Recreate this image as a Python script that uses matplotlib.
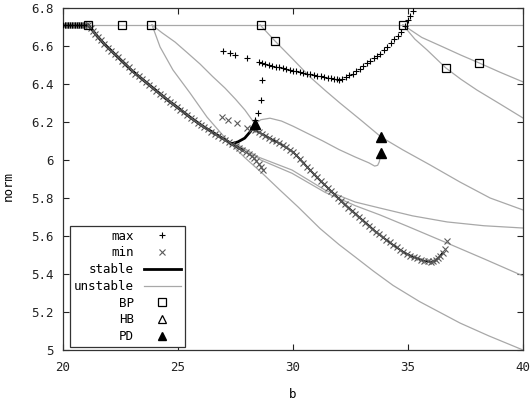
import numpy as np
import matplotlib.pyplot as plt
from matplotlib.lines import Line2D
from matplotlib.ticker import FuncFormatter

plt.rcParams['font.family'] = ['DejaVu Sans Mono', 'DejaVu Sans']
plt.rcParams['font.size'] = 9

# ---- values: (b, norm) ----
# steady branch (flat)
flat_b = [20.0, 40.0]
flat_n = [6.711, 6.711]
flat_stable_b = [20.0, 21.09]
flat_stable_n = [6.711, 6.711]
flat_mark_b = [20.0, 20.1, 20.2, 20.3, 20.4, 20.5, 20.6, 20.7, 20.8, 20.9, 21.0]
flat_mark_n = [6.711] * 11

# first periodic branch (min); stable up to b = 27.8
min1_b = [21.1, 21.2, 21.3, 21.4, 21.5, 21.65, 21.8, 21.95, 22.1, 22.25, 22.4,
          22.55, 22.7, 22.85, 23.0, 23.15, 23.3, 23.45, 23.6, 23.75, 23.9, 24.05,
          24.2, 24.35, 24.5, 24.65, 24.8, 24.95, 25.1, 25.25, 25.4, 25.55, 25.7,
          25.85, 26.0, 26.15, 26.3, 26.45, 26.6, 26.75, 26.9, 27.05, 27.2, 27.35,
          27.5, 27.65, 27.8, 27.95, 28.1, 28.2, 28.3, 28.4, 28.5, 28.6, 28.7]
min1_n = [6.71, 6.695, 6.68, 6.665, 6.65, 6.63, 6.61, 6.592, 6.575, 6.557, 6.54,
          6.522, 6.505, 6.487, 6.47, 6.455, 6.44, 6.425, 6.41, 6.395, 6.38, 6.365,
          6.35, 6.335, 6.32, 6.306, 6.293, 6.279, 6.265, 6.251, 6.237, 6.223, 6.21,
          6.197, 6.184, 6.172, 6.161, 6.15, 6.139, 6.128, 6.117, 6.106, 6.095, 6.084,
          6.074, 6.063, 6.053, 6.042, 6.03, 6.019, 6.008, 5.994, 5.98, 5.965, 5.95]
n_stable1 = 47
hook_b = [27.3, 27.6, 27.9, 28.15, 28.35]
hook_n = [6.085, 6.095, 6.115, 6.15, 6.19]

# second periodic branch (min); stable up to the fold
min2_b = [28.2, 28.35, 28.5, 28.65, 28.8, 28.95, 29.1, 29.25, 29.4, 29.55, 29.7,
          29.85, 30.0, 30.15, 30.3, 30.45, 30.6, 30.75, 30.9, 31.05, 31.2, 31.35,
          31.5, 31.65, 31.8, 31.95, 32.1, 32.25, 32.4, 32.55, 32.7, 32.85, 33.0,
          33.15, 33.3, 33.45, 33.6, 33.75, 33.9, 34.05, 34.2, 34.35, 34.5, 34.65,
          34.8, 34.95, 35.1, 35.25, 35.4, 35.55, 35.7, 35.85, 36.0, 36.1, 36.2,
          36.3, 36.4, 36.5, 36.6, 36.7]
min2_n = [6.165, 6.156, 6.147, 6.137, 6.128, 6.118, 6.107, 6.098, 6.088, 6.077,
          6.066, 6.054, 6.042, 6.024, 6.005, 5.985, 5.965, 5.946, 5.927, 5.908,
          5.89, 5.872, 5.855, 5.837, 5.82, 5.801, 5.783, 5.766, 5.75, 5.734, 5.718,
          5.702, 5.686, 5.67, 5.655, 5.638, 5.622, 5.608, 5.594, 5.58, 5.566, 5.553,
          5.54, 5.528, 5.516, 5.506, 5.497, 5.489, 5.482, 5.476, 5.47, 5.466, 5.464,
          5.466, 5.472, 5.482, 5.495, 5.511, 5.53, 5.575]
min_extra_b = [26.91, 27.17, 27.57, 28.0]
min_extra_n = [6.226, 6.21, 6.195, 6.168]

# max markers
max_b = [26.96, 27.26, 27.48, 28.0, 28.5, 28.65, 28.8, 28.95, 29.1, 29.25, 29.4,
         29.55, 29.7, 29.85, 30.0, 30.15, 30.3, 30.45, 30.6, 30.75, 30.9, 31.05,
         31.2, 31.35, 31.5, 31.65, 31.8, 31.9, 32.0, 32.15, 32.3, 32.45, 32.6,
         32.75, 32.9, 33.05, 33.2, 33.35, 33.5, 33.65, 33.8, 33.95, 34.1, 34.25,
         34.4, 34.55, 34.7, 34.85, 35.0, 35.1, 35.2]
max_n = [6.574, 6.563, 6.553, 6.537, 6.516, 6.511, 6.506, 6.502, 6.497, 6.492,
         6.488, 6.483, 6.479, 6.474, 6.47, 6.466, 6.462, 6.458, 6.455, 6.451, 6.448,
         6.444, 6.441, 6.437, 6.434, 6.43, 6.427, 6.424, 6.421, 6.428, 6.437, 6.446,
         6.455, 6.467, 6.48, 6.494, 6.508, 6.521, 6.535, 6.547, 6.56, 6.577, 6.595,
         6.615, 6.635, 6.655, 6.675, 6.705, 6.735, 6.76, 6.785]
max_vert_b = [28.35, 28.48, 28.61, 28.65]
max_vert_n = [6.21, 6.247, 6.316, 6.421]

# unstable branches
u2_b = [23.87, 24.3, 24.87, 25.4, 25.96, 26.5, 27.04, 27.5, 27.91, 28.35]
u2_n = [6.711, 6.67, 6.621, 6.565, 6.505, 6.44, 6.379, 6.32, 6.263, 6.189]
u3_b = [23.87, 24.22, 24.78, 25.52, 26.26, 27.13, 27.91, 28.65, 29.43, 30.22,
        31.17, 32.0, 32.7, 33.5, 34.35, 35.5, 37.26, 38.5, 40.0]
u3_n = [6.711, 6.595, 6.474, 6.353, 6.226, 6.105, 6.012, 5.932, 5.842, 5.753,
        5.64, 5.555, 5.49, 5.415, 5.34, 5.255, 5.142, 5.075, 5.0]
u4_b = [28.57, 29.22, 30.0, 30.74, 31.4, 32.04, 33.0, 33.83, 34.78, 35.96, 37.26,
        38.57, 40.0]
u4_n = [6.711, 6.626, 6.53, 6.437, 6.366, 6.3, 6.205, 6.121, 6.053, 5.974, 5.884,
        5.8, 5.737]
u5_b = [34.78, 35.3, 35.83, 36.65, 37.3, 38.0, 39.0, 40.0]
u5_n = [6.711, 6.636, 6.579, 6.484, 6.425, 6.368, 6.295, 6.221]
u6_b = [34.78, 35.6, 36.52, 37.3, 38.09, 39.0, 40.0]
u6_n = [6.711, 6.645, 6.595, 6.552, 6.511, 6.462, 6.411]
hump_b = [28.35, 28.6, 29.0, 29.5, 30.0, 30.6, 31.3, 32.0, 32.7, 33.3, 33.55,
          33.68, 33.75, 33.83]
hump_n = [6.19, 6.212, 6.22, 6.205, 6.178, 6.142, 6.1, 6.055, 6.016, 5.985,
          5.968, 5.972, 5.99, 6.037]
u7_b = [27.48, 28.48, 29.96, 31.39, 32.7, 33.78, 35.2, 36.7, 38.3, 40.0]
u7_n = [6.089, 6.016, 5.947, 5.842, 5.779, 5.747, 5.706, 5.674, 5.654, 5.642]
u8_b = [27.9, 28.6, 29.96, 31.39, 32.7, 33.78, 35.0, 36.7, 38.3, 40.0]
u8_n = [6.06, 6.0, 5.93, 5.83, 5.76, 5.711, 5.65, 5.563, 5.48, 5.39]

# special points
bp_b = [21.09, 22.57, 23.83, 28.6, 34.78, 29.22, 36.65, 38.09]
bp_n = [6.711, 6.711, 6.711, 6.711, 6.711, 6.627, 6.485, 6.51]
pd_b = [28.35, 33.83, 33.83]
pd_n = [6.19, 6.123, 6.039]

gray = '#a8a8a8'
xgray = '#5a5a5a'

fig = plt.figure(figsize=(5.31, 4.03), dpi=100)
ax = fig.add_axes([63 / 531, 1 - 350 / 403, 460 / 531, 342 / 403])

# unstable
for b, n in [(flat_b, flat_n), (u2_b, u2_n), (u3_b, u3_n), (u4_b, u4_n),
             (u5_b, u5_n), (u6_b, u6_n), (hump_b, hump_n), (u7_b, u7_n),
             (u8_b, u8_n)]:
    ax.plot(b, n, color=gray, lw=0.9, zorder=2)

# stable
ax.plot(flat_stable_b, flat_stable_n, color='black', lw=2.0, zorder=3)
ax.plot([21.09] + min1_b[:n_stable1], [6.711] + min1_n[:n_stable1],
        color='black', lw=2.0, zorder=3)
ax.plot(hook_b, hook_n, color='black', lw=2.0, zorder=3)
ax.plot(min2_b[:-2], min2_n[:-2], color='black', lw=1.3, zorder=3)

# min / max markers
mk = dict(ls='none', ms=5, mew=0.8, zorder=4)
ax.plot(flat_mark_b, flat_mark_n, marker='x', color=xgray, **mk)
ax.plot(flat_mark_b, flat_mark_n, marker='+', color='black', **mk)
ax.plot(min1_b, min1_n, marker='x', color=xgray, **mk)
ax.plot(min2_b, min2_n, marker='x', color=xgray, **mk)
ax.plot(min_extra_b, min_extra_n, marker='x', color=xgray, **mk)
ax.plot(max_b, max_n, marker='+', color='black', **mk)
ax.plot(max_vert_b, max_vert_n, marker='+', color='black', **mk)

ax.plot(bp_b, bp_n, ls='none', marker='s', ms=6, mfc='none', mec='black',
        mew=0.9, zorder=5)
ax.plot(pd_b, pd_n, ls='none', marker='^', ms=7, color='black', zorder=5)

ax.set_xlim(20, 40)
ax.set_ylim(5, 6.8)
ax.set_xticks([20, 25, 30, 35, 40])
ax.set_yticks([5.0, 5.2, 5.4, 5.6, 5.8, 6.0, 6.2, 6.4, 6.6, 6.8])
ax.yaxis.set_major_formatter(FuncFormatter(lambda v, _: f'{round(v, 1):g}'))
ax.tick_params(direction='in', length=4, width=0.8, top=True, right=True,
               labelsize=9, colors='#222222')
ax.tick_params(axis='x', pad=8)
ax.tick_params(axis='y', pad=7)
for s in ax.spines.values():
    s.set_linewidth(0.9)
    s.set_color('#333333')

ax.set_xlabel('b')
ax.xaxis.set_label_coords(0.5, -0.11)
ax.set_ylabel('norm')
ax.yaxis.set_label_coords(-0.105, 0.48)

handles = [
    Line2D([], [], ls='none', marker='+', color='black', ms=5, mew=0.8),
    Line2D([], [], ls='none', marker='x', color=xgray, ms=5, mew=0.8),
    Line2D([], [], color='black', lw=2.0),
    Line2D([], [], color=gray, lw=0.9),
    Line2D([], [], ls='none', marker='s', ms=6, mfc='none', mec='black', mew=0.9),
    Line2D([], [], ls='none', marker='^', ms=6, mfc='none', mec='black', mew=0.9),
    Line2D([], [], ls='none', marker='^', ms=6, color='black'),
]
labels = ['max', 'min', 'stable', 'unstable', 'BP', 'HB', 'PD']
leg = ax.legend(handles, labels, loc='lower left', bbox_to_anchor=(0.015, 0.009),
                borderaxespad=0, markerfirst=False, handlelength=3.0,
                labelspacing=0.3, handletextpad=0.8, borderpad=0.3,
                fancybox=False, framealpha=1, edgecolor='#333333', fontsize=9)
leg.get_frame().set_linewidth(0.9)

fig.savefig('out.png', dpi=100)
